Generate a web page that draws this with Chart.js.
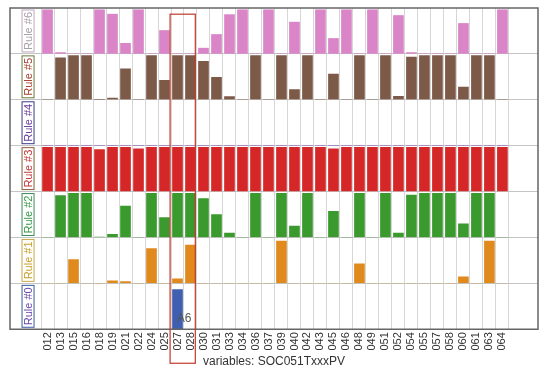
<!DOCTYPE html>
<html>
<head>
<meta charset="utf-8">
<script src="https://cdn.jsdelivr.net/npm/chart.js@4.4.1/dist/chart.umd.min.js"></script>
<style>
  html, body { margin: 0; padding: 0; background: #fff; }
  #wrap { width: 550px; height: 372px; }
</style>
</head>
<body>
<div id="wrap"><canvas id="myChart"></canvas></div>
<script>
const categories = ["012", "013", "015", "016", "018", "019", "021", "022", "024", "025", "027", "028",
  "030", "031", "033", "034", "036", "037", "039", "040", "042", "043", "045", "046",
  "048", "049", "051", "052", "054", "055", "057", "058", "060", "061", "063", "064"];

const ruleNames = ["Rule #0", "Rule #1", "Rule #2", "Rule #3", "Rule #4", "Rule #5", "Rule #6"];

const rule0 = [0, 0, 0, 0, 0, 0, 0, 0, 0, 0, 0.9, 0, 0, 0, 0, 0, 0, 0, 0, 0, 0, 0, 0, 0, 0, 0, 0, 0, 0, 0, 0, 0, 0, 0, 0, 0];
const rule1 = [0, 0, 0.54, 0, 0, 0.06, 0.04, 0, 0.79, 0, 0.1, 0.87, 0, 0, 0, 0, 0, 0, 0.96, 0, 0, 0, 0, 0, 0.44, 0, 0, 0, 0, 0, 0, 0, 0.15, 0, 0.96, 0];
const rule2 = [0, 0.95, 1, 1, 0.01, 0.07, 0.71, 0, 1, 0.45, 1, 1, 0.88, 0.52, 0.1, 0, 1, 0, 1, 0.26, 1, 0, 0.59, 0, 1, 0, 1, 0.1, 0.96, 1, 1, 1, 0.31, 1, 1, 0];
const rule3 = [1, 1, 1, 1, 0.95, 1, 1, 0.97, 1, 1, 1, 1, 1, 1, 1, 1, 1, 1, 1, 1, 1, 1, 0.97, 1, 1, 1, 1, 1, 1, 1, 1, 1, 1, 1, 1, 1];
const rule4 = [0, 0, 0, 0, 0, 0, 0, 0, 0, 0, 0, 0, 0, 0, 0, 0, 0, 0, 0, 0, 0, 0, 0, 0, 0, 0, 0, 0, 0, 0, 0, 0, 0, 0, 0, 0];
const rule5 = [0, 0.95, 1, 1, 0.01, 0.04, 0.7, 0, 1, 0.44, 1, 1, 0.87, 0.51, 0.07, 0, 1, 0, 1, 0.23, 1, 0, 0.58, 0, 1, 0, 1, 0.08, 0.97, 1, 1, 1, 0.29, 1, 1, 0];
const rule6 = [1, 0.03, 0, 0, 1, 0.9, 0.24, 1, 0, 0.53, 0, 0, 0.13, 0.44, 0.89, 1, 0, 1, 0, 0.72, 0, 1, 0.35, 1, 0, 1, 0, 0.87, 0.03, 0, 0, 0, 0.69, 0, 0, 1];

const ruleValues = [rule0, rule1, rule2, rule3, rule4, rule5, rule6];

const barColors = ["#3f5fb0", "#e08a1e", "#3a9a2e", "#d62728", "#9467bd", "#7d5a48", "#d985c8"];
const labelText = ["#6a4aaa", "#c8a030", "#3a9a4a", "#c03838", "#6a3d9a", "#a84030", "#a8a0a8"];
const labelBox = ["#3a5aa0", "#c8a848", "#3a8a5a", "#8a5a3a", "#3a3a8a", "#6a7a3a", "#c0a8c0"];

// highlighted variable and its tag
const markIndex = 10;
const markText = "A6";

const datasets = ruleValues.map((vals, r) => ({
  label: ruleNames[r],
  data: vals.map((v, i) => ({ x: i, y: v })),
  backgroundColor: barColors[r],
  borderWidth: 0,
  yAxisID: "y" + r,
  barThickness: 10,
  grouped: false,
}));

const scales = {
  x: {
    type: "linear",
    min: -2.38,
    max: 37.23,
    ticks: {
      stepSize: 1,
      autoSkip: false,
      minRotation: 90,
      maxRotation: 90,
      padding: 3,
      color: "#333",
      font: { family: "Liberation Sans, Arial, sans-serif", size: 11 },
      callback: (v) => (Number.isInteger(v) && categories[v] ? categories[v] : ""),
    },
    grid: {
      drawTicks: false,
      color: (c) =>
        c.tick && Number.isInteger(c.tick.value) && c.tick.value >= 0 && c.tick.value <= categories.length
          ? "#d6d6d6"
          : "rgba(0,0,0,0)",
    },
    border: { display: false },
    title: {
      display: true,
      text: "variables: SOC051TxxxPV",
      color: "#333",
      font: { family: "Liberation Sans, Arial, sans-serif", size: 12 },
      padding: { top: 1, bottom: 0 },
    },
  },
};

ruleNames.forEach((name, r) => {
  scales["y" + r] = {
    type: "linear",
    position: "left",
    stack: "rules",
    stackWeight: 1,
    min: 0,
    max: 1.04,
    afterBuildTicks: (s) => {
      s.ticks = [{ value: 0 }];
    },
    ticks: { display: false },
    grid: { drawTicks: false, color: r === 0 ? "rgba(0,0,0,0)" : "#c4c4c4" },
    border: { display: false },
  };
});

const ctx = document.getElementById("myChart").getContext("2d");

new Chart(ctx, {
  type: "bar",
  data: { datasets: datasets },
  options: {
    responsive: true,
    maintainAspectRatio: false,
    animation: false,
    layout: { padding: { left: 10, right: 12, top: 8, bottom: 3 } },
    plugins: {
      legend: { display: false },
      tooltip: { enabled: false },
    },
    scales: scales,
  },
  plugins: [
    {
      id: "rowLabels",
      afterDraw(chart) {
        const { ctx, chartArea, scales } = chart;
        const xs = scales.x;
        ctx.save();

        // frame
        ctx.strokeStyle = "#666";
        ctx.lineWidth = 1.5;
        ctx.strokeRect(chartArea.left, chartArea.top, chartArea.right - chartArea.left, chartArea.bottom - chartArea.top);

        // rule labels in boxes
        ctx.font = "11px 'Liberation Sans', Arial, sans-serif";
        ctx.textAlign = "center";
        ctx.textBaseline = "middle";
        const lx = xs.getPixelForValue(-1.5);
        ruleNames.forEach((name, r) => {
          const ys = scales["y" + r];
          const cy = (ys.top + ys.bottom) / 2;
          const w = ctx.measureText(name).width + 4;
          ctx.save();
          ctx.translate(lx, cy);
          ctx.rotate(-Math.PI / 2);
          ctx.fillStyle = "#fff";
          ctx.fillRect(-w / 2, -6, w, 12);
          ctx.strokeStyle = labelBox[r];
          ctx.lineWidth = 1;
          ctx.strokeRect(-w / 2, -6, w, 12);
          ctx.fillStyle = labelText[r];
          ctx.fillText(name, 0, 0.5);
          ctx.restore();
        });

        // highlighted column
        const x0 = xs.getPixelForValue(markIndex - 0.57);
        const x1 = xs.getPixelForValue(markIndex + 1.37);
        const yTop = scales.y6.getPixelForValue(0.9);
        const yBot = chartArea.bottom + 34;
        ctx.strokeStyle = "#c0392b";
        ctx.lineWidth = 1.2;
        ctx.strokeRect(x0, yTop, x1 - x0, yBot - yTop);

        // tag
        ctx.fillStyle = "#555";
        ctx.font = "12px 'Liberation Sans', Arial, sans-serif";
        ctx.fillText(markText, xs.getPixelForValue(markIndex + 0.5), scales.y0.getPixelForValue(0.25));

        ctx.restore();
      },
    },
  ],
});
</script>
</body>
</html>
